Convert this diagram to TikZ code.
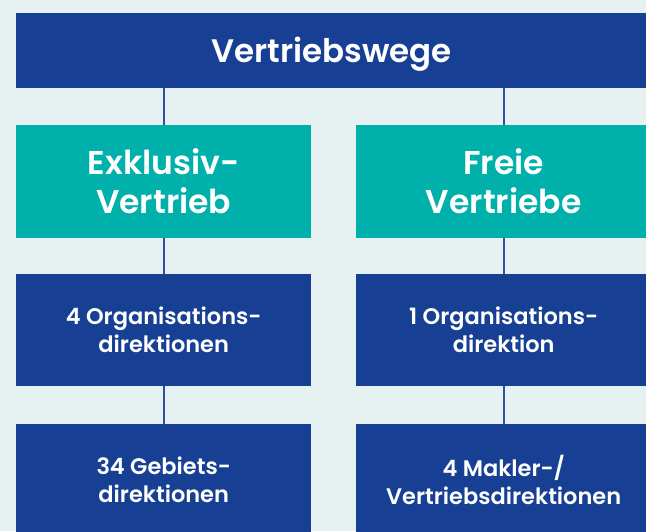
\documentclass[tikz,border=0pt]{standalone}
\usepackage{fontspec}
\setmainfont{Poppins}[BoldFont = Poppins SemiBold]
\usetikzlibrary{positioning}
\definecolor{bgmint}{HTML}{E6F2F2}
\definecolor{wegeblue}{HTML}{173F93}
\definecolor{wegeteal}{HTML}{00B0AA}
\definecolor{linkblue}{HTML}{2B50A0}
\begin{document}
\begin{tikzpicture}[x = 1pt, y = -1pt,
        wegebox/.style = {rectangle, fill = wegeblue, text = white, anchor = north west,
            align = center, inner sep = 0pt, font = \bfseries},
        kanalbox/.style = {wegebox, fill = wegeteal},
        link/.style = {draw = linkblue, line width = 2pt}]
    \fill [bgmint] (0, 0) rectangle (646, 531);
    \useasboundingbox (0, 0) rectangle (646, 531);

    % top
    \node [wegebox, minimum width = 631pt, minimum height = 75pt,
        text height = 23pt, text depth = 0pt,
        font = \bfseries\fontsize{32.5}{38}\selectfont] (wege) at (16, 13) {Vertriebswege};

    % channels
    \node [kanalbox, minimum width = 295pt, minimum height = 113pt,
        font = \bfseries\fontsize{33}{39}\selectfont] (exkl) at (16, 125) {Exklusiv-\\Vertrieb};
    \node [kanalbox, minimum width = 295pt, minimum height = 113pt,
        font = \bfseries\fontsize{33}{39}\selectfont] (frei) at (356, 125) {Freie\\Vertriebe};

    % directions
    \node [wegebox, minimum width = 295pt, minimum height = 112pt,
        font = \bfseries\fontsize{22.5}{28}\selectfont] (orgL) at (16, 274) {4 Organisations-\\direktionen};
    \node [wegebox, minimum width = 295pt, minimum height = 112pt,
        font = \bfseries\fontsize{22.5}{28}\selectfont] (orgR) at (356, 274) {1 Organisations-\\direktion};
    \node [wegebox, minimum width = 295pt, minimum height = 112pt,
        font = \bfseries\fontsize{22.5}{28}\selectfont] (gebL) at (16, 424) {34 Gebiets-\\direktionen};
    \node [wegebox, minimum width = 295pt, minimum height = 112pt,
        font = \bfseries\fontsize{22.5}{28}\selectfont] (gebR) at (356, 424) {4 Makler-/\\Vertriebsdirektionen};

    % connectors
    \draw [link] (exkl.north) -- (exkl.north |- wege.south);
    \draw [link] (frei.north) -- (frei.north |- wege.south);
    \draw [link] (orgL.north) -- (exkl.south);
    \draw [link] (orgR.north) -- (frei.south);
    \draw [link] (gebL.north) -- (orgL.south);
    \draw [link] (gebR.north) -- (orgR.south);
\end{tikzpicture}
\end{document}
